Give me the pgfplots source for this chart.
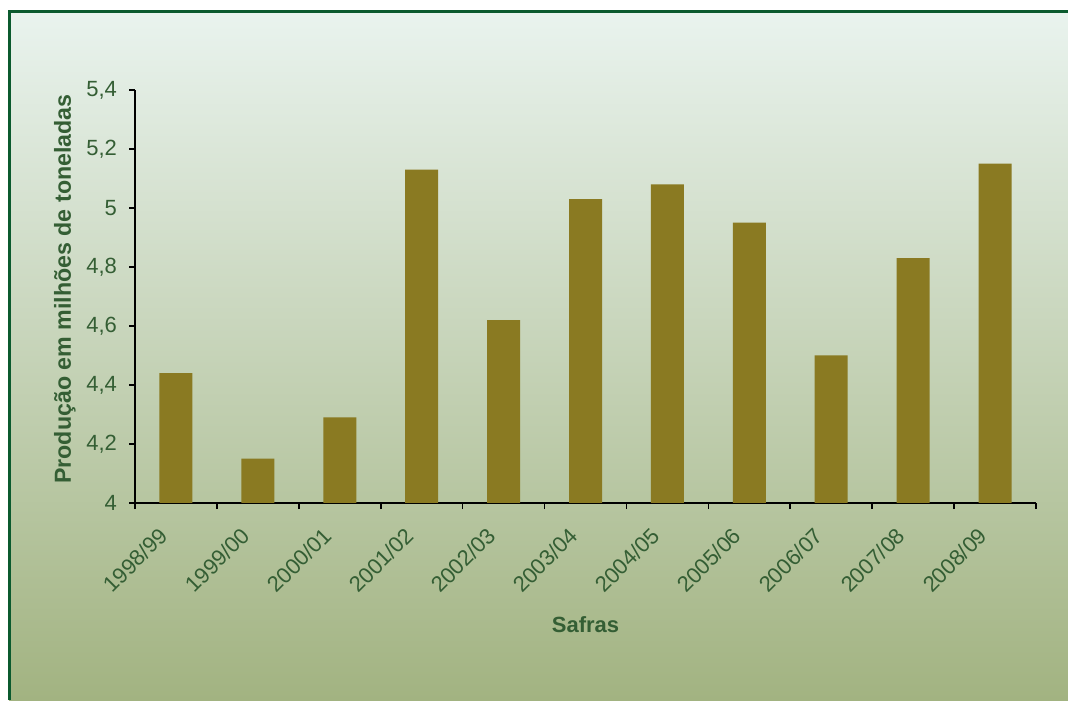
\documentclass[border=0pt]{standalone}
\usepackage{pgfplots}
\pgfplotsset{compat=1.18}
\usepackage{fontspec}
\setmainfont{Liberation Sans}
\definecolor{barc}{RGB}{138,122,34}
\definecolor{txt}{RGB}{52,94,52}
\definecolor{framec}{RGB}{11,90,46}
\definecolor{bgtop}{RGB}{233,243,238}
\definecolor{bgmid}{RGB}{201,214,188}
\definecolor{bgbot}{RGB}{162,179,129}
\begin{document}
\begin{tikzpicture}[x=0.5pt,y=0.5pt]
\shade[top color=bgtop, middle color=bgmid, bottom color=bgbot] (9,0) rectangle (1068,688);
\draw[framec, line width=1.5pt] (9,0) -- (9,688) -- (1068,688);
\begin{axis}[
  at={(67.5pt,98.5pt)}, anchor=south west,
  scale only axis, width=450.5pt, height=206.5pt,
  xmin=-0.5, xmax=10.5, ymin=4, ymax=5.4,
  axis x line*=bottom, axis y line*=left,
  ytick={4,4.2,4.4,4.6,4.8,5,5.2,5.4},
  xtick={0,1,2,3,4,5,6,7,8,9,10},
  xticklabels={1998/99,1999/00,2000/01,2001/02,2002/03,2003/04,2004/05,2005/06,2006/07,2007/08,2008/09},
  minor xtick={-0.5,0.5,1.5,2.5,3.5,4.5,5.5,6.5,7.5,8.5,9.5,10.5},
  major x tick style={draw=none},
  tick align=outside,
  major tick length=3pt, minor tick length=3pt,
  tick style={black, line width=0.8pt},
  axis line style={black, line width=0.8pt},
  ticklabel style={font=\fontsize{11}{13}\selectfont, text=txt},
  xticklabel style={xshift=-9pt, yshift=-7pt, rotate=45, anchor=north east, inner sep=1pt},
  yticklabel style={xshift=-2.5pt, /pgf/number format/.cd, use comma, fixed, precision=1},
  /pgf/number format/assume math mode=true,
  xlabel={Safras}, ylabel={Produção em milhões de toneladas},
  label style={font=\bfseries\fontsize{11}{13}\selectfont, text=txt},
  xlabel style={at={(axis description cs:0.5,-0.295)}, anchor=center},
  ylabel style={at={(axis description cs:-0.0777,0.518)}, anchor=center, font=\bfseries\fontsize{11.6}{13}\selectfont},
  ybar, bar width=16.5pt,
]
\addplot[fill=barc, draw=none] coordinates {
(0,4.44) (1,4.15) (2,4.29) (3,5.13) (4,4.62) (5,5.03) (6,5.08) (7,4.95) (8,4.50) (9,4.83) (10,5.15)};
\end{axis}
\pgfresetboundingbox
\path (0,0) rectangle (1068,700);
\end{tikzpicture}
\end{document}
